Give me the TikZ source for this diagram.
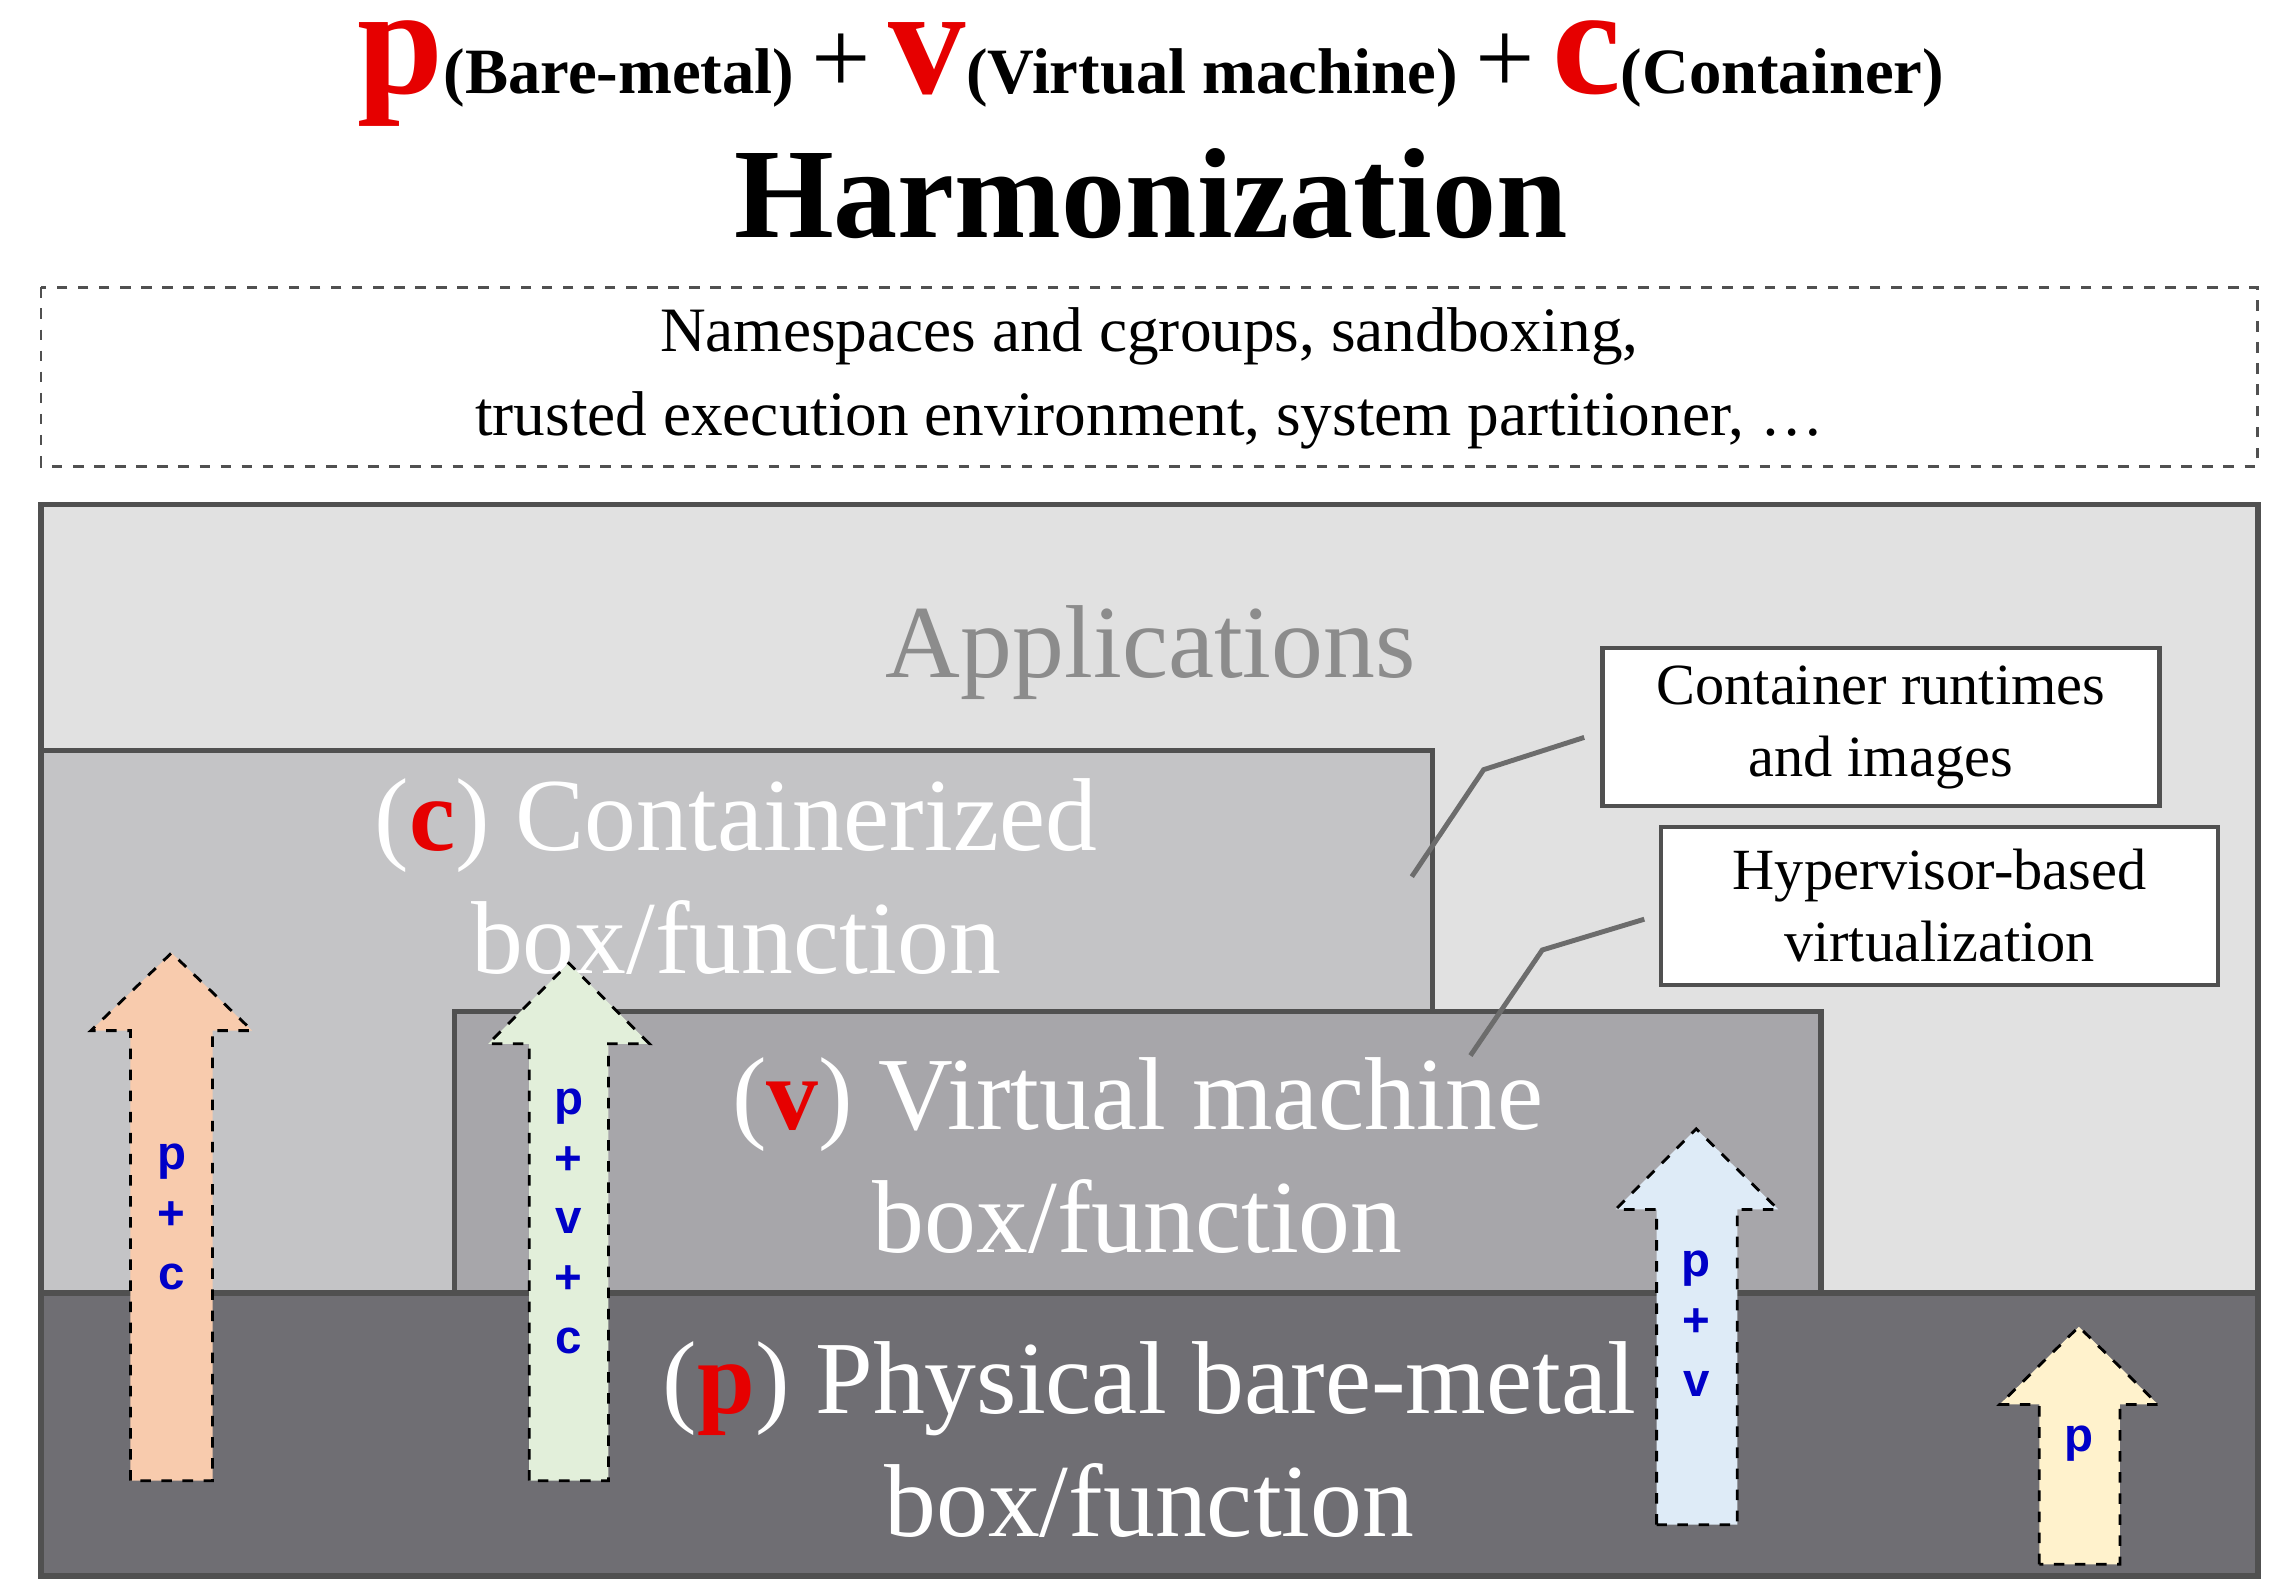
\documentclass[tikz,border=0pt]{standalone}
\usepackage{fontspec}
\setmainfont{Liberation Serif}
\newfontfamily\arsans{Liberation Sans}
\definecolor{outerg}{HTML}{E1E1E1}
\definecolor{contg}{HTML}{C4C4C6}
\definecolor{vmg}{HTML}{A7A6AA}
\definecolor{physg}{HTML}{6F6E73}
\definecolor{edgeg}{HTML}{505050}
\definecolor{appg}{HTML}{8C8C8C}
\definecolor{peach}{HTML}{F8CBAD}
\definecolor{pgreen}{HTML}{E2EFDA}
\definecolor{pblue}{HTML}{DEEBF7}
\definecolor{pyellow}{HTML}{FFF2CC}
\definecolor{lblue}{HTML}{0000C8}
\definecolor{tred}{HTML}{E60000}
\begin{document}
\begin{tikzpicture}[x=0.01466cm,y=-0.01466cm,
  layer/.style={draw=edgeg,line width=1.6pt},
  big/.style={text=white,font=\fontsize{29.5}{35}\selectfont,align=center},
  callout/.style={draw=edgeg,fill=white,line width=1.2pt,font=\fontsize{16.6}{20.5}\selectfont,align=center,minimum width=380*0.1466mm,minimum height=108*0.1466mm,inner sep=0pt},
  cline/.style={draw=gray!85!black,line width=1.4pt},
  arr/.style={draw=black,dashed,line width=0.8pt,line join=miter},
  alab/.style={text=lblue,font=\arsans\bfseries\fontsize{13.5}{17}\selectfont,align=center}]
\useasboundingbox (0,0) rectangle (1560,1088);
% title
\node[font=\bfseries,inner sep=0pt] (t1) at (785,50) {\textcolor{tred}{\fontsize{44}{44}\selectfont p}{\fontsize{18.4}{20}\selectfont(Bare-metal)}\enspace{\fontsize{30}{30}\selectfont\mdseries +}\enspace\textcolor{tred}{\fontsize{44}{44}\selectfont v}{\fontsize{18.4}{20}\selectfont(Virtual machine)}\enspace{\fontsize{30}{30}\selectfont\mdseries +}\enspace\textcolor{tred}{\fontsize{44}{44}\selectfont c}{\fontsize{18.4}{20}\selectfont(Container)}};
\node[font=\bfseries\fontsize{36.5}{40}\selectfont] (t2) at (785,132) {Harmonization};
% dashed box
\draw[dashed,draw=edgeg,line width=0.8pt] (28,196) rectangle (1540,318);
\node[font=\fontsize{18}{24}\selectfont,align=center] (ns) at (784,258) {Namespaces and cgroups, sandboxing,\\trusted execution environment, system partitioner, \dots};
% layers
\draw[layer,fill=outerg] (28,344) rectangle (1540,1075);
\node[text=appg,font=\fontsize{29.5}{35}\selectfont] (app) at (785,445) {Applications};
\draw[layer,fill=contg] (28,1075) -- (28,512) -- (977,512) -- (977,885);
\draw[layer,fill=vmg] (310,885) -- (310,690) -- (1242,690) -- (1242,885);
\draw[layer,fill=physg] (28,882) rectangle (1540,1075);
\node[big] (c) at (502,598) {(\textcolor{tred}{\textbf{c}}) Containerized\\box/function};
\node[big] (v) at (776,788) {(\textcolor{tred}{\textbf{v}}) Virtual machine\\box/function};
\node[big] (p) at (784,982) {(\textcolor{tred}{\textbf{p}}) Physical bare-metal\\box/function};
% callouts
\node[callout] (cr) at (1283,496) {Container runtimes\\and images};
\node[callout] (hv) at (1323,618) {Hypervisor-based\\virtualization};
\draw[cline] (cr.west)++(-11,7) -- (1012,525) -- (963,598);
\draw[cline] (hv.west)++(-10,9) -- (1052,648) -- (1003,720);
% arrows
\draw[arr,fill=peach] (89,1010) -- (89,703) -- (62,703) -- (117,650) -- (172,703) -- (145,703) -- (145,1010) -- cycle;
\node[alab] (a1) at (117,830) {p\\+\\c};
\draw[arr,fill=pgreen] (361,1010) -- (361,712) -- (333,712) -- (388,657) -- (443,712) -- (415,712) -- (415,1010) -- cycle;
\node[alab] (a2) at (388,833) {p\\+\\v\\+\\c};
\draw[arr,fill=pblue] (1130,1040) -- (1130,825) -- (1102,825) -- (1157,770) -- (1213,825) -- (1185,825) -- (1185,1040) -- cycle;
\node[alab] (a3) at (1157,903) {p\\+\\v};
\draw[arr,fill=pyellow] (1391,1067) -- (1391,958) -- (1364,958) -- (1418,905) -- (1472,958) -- (1446,958) -- (1446,1067) -- cycle;
\node[alab] (a4) at (1418,985) {p};
\end{tikzpicture}
\end{document}
